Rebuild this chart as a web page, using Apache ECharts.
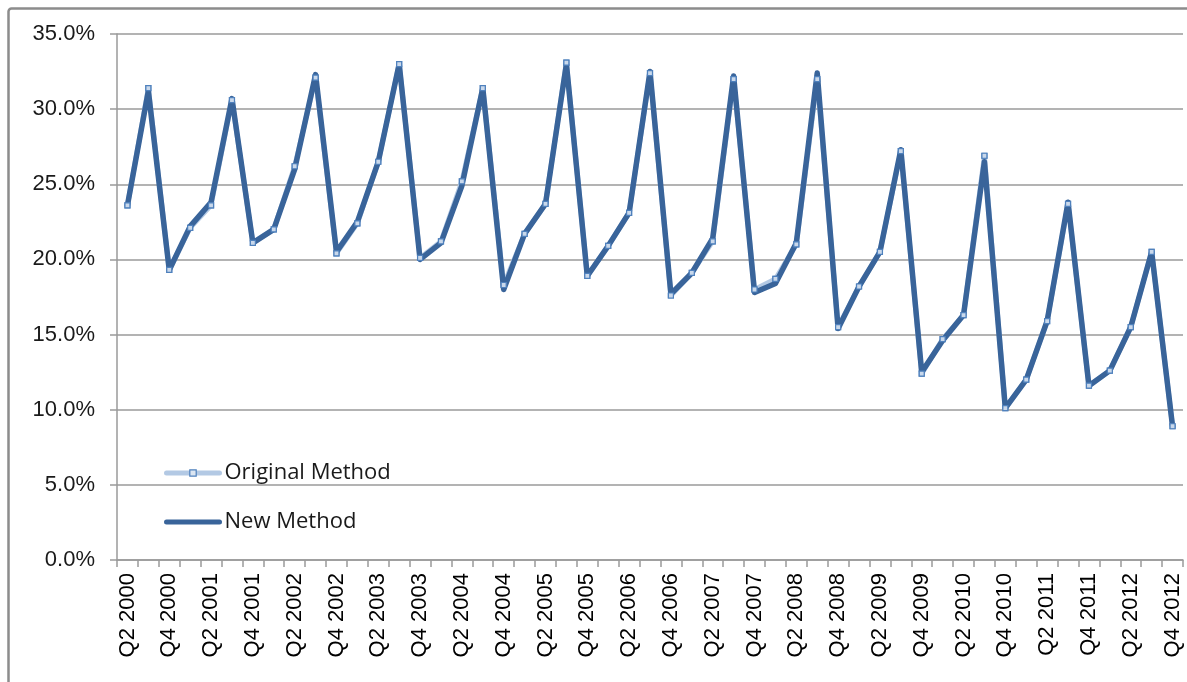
<!DOCTYPE html>
<html>
<head>
<meta charset="utf-8">
<script src="https://cdn.jsdelivr.net/npm/echarts@6/dist/echarts.min.js"></script>
<style>
html,body{margin:0;padding:0;background:#fff;}
#chart{width:1187px;height:682px;}
</style>
</head>
<body>
<div id="chart"></div>
<script>
const categories = [
  "Q2 2000","Q3 2000","Q4 2000",
  "Q1 2001","Q2 2001","Q3 2001","Q4 2001",
  "Q1 2002","Q2 2002","Q3 2002","Q4 2002",
  "Q1 2003","Q2 2003","Q3 2003","Q4 2003",
  "Q1 2004","Q2 2004","Q3 2004","Q4 2004",
  "Q1 2005","Q2 2005","Q3 2005","Q4 2005",
  "Q1 2006","Q2 2006","Q3 2006","Q4 2006",
  "Q1 2007","Q2 2007","Q3 2007","Q4 2007",
  "Q1 2008","Q2 2008","Q3 2008","Q4 2008",
  "Q1 2009","Q2 2009","Q3 2009","Q4 2009",
  "Q1 2010","Q2 2010","Q3 2010","Q4 2010",
  "Q1 2011","Q2 2011","Q3 2011","Q4 2011",
  "Q1 2012","Q2 2012","Q3 2012","Q4 2012"
];

const originalMethod = [
  23.6, 31.4, 19.3,
  22.1, 23.6, 30.6, 21.1,
  22.0, 26.2, 32.1, 20.4,
  22.4, 26.5, 33.0, 20.1,
  21.2, 25.2, 31.4, 18.3,
  21.7, 23.7, 33.1, 18.9,
  20.9, 23.1, 32.4, 17.6,
  19.1, 21.2, 32.0, 18.0,
  18.7, 21.0, 32.0, 15.5,
  18.2, 20.5, 27.2, 12.4,
  14.7, 16.3, 26.9, 10.1,
  12.0, 15.9, 23.7, 11.6,
  12.6, 15.5, 20.5, 8.9
];

const newMethod = [
  23.6, 31.2, 19.3,
  22.2, 23.8, 30.7, 21.1,
  22.0, 26.0, 32.3, 20.5,
  22.5, 26.5, 33.0, 20.0,
  21.1, 24.9, 31.4, 18.0,
  21.7, 23.7, 33.0, 18.9,
  20.9, 23.1, 32.5, 17.7,
  19.1, 21.4, 32.2, 17.8,
  18.4, 21.1, 32.4, 15.4,
  18.2, 20.5, 27.3, 12.5,
  14.6, 16.3, 26.5, 10.1,
  12.0, 15.9, 23.8, 11.6,
  12.6, 15.5, 20.5, 8.9
];

const seriesNames = ["Original Method", "New Method"];
const yTicks = { min: 0, max: 35, interval: 5 };

const chart = echarts.init(document.getElementById('chart'), null, { renderer: 'canvas' });

const axisFont = 'Liberation Sans, Arial, sans-serif';
const darkBlue = '#39649a';
const lightBlue = '#b3c9e4';

chart.setOption({
  animation: false,
  backgroundColor: '#ffffff',
  graphic: [{
    type: 'rect',
    left: 6, top: 6,
    shape: { width: 1400, height: 900, r: 3 },
    style: { fill: 'none', stroke: '#8c8c8c', lineWidth: 2.5 },
    silent: true,
    z: -1
  }],
  grid: { left: 117, right: 4, top: 34, bottom: 122, containLabel: false },
  legend: {
    data: [
      {
        name: seriesNames[0],
        lineStyle: { width: 5, color: lightBlue },
        itemStyle: { color: '#dce6f2', borderColor: '#4f81bd', borderWidth: 1.2 }
      },
      {
        name: seriesNames[1],
        lineStyle: { width: 5, color: darkBlue },
        itemStyle: { opacity: 0 }
      }
    ],
    orient: 'vertical',
    left: 159,
    top: 457,
    itemWidth: 53,
    itemHeight: 8,
    itemGap: 27,
    textStyle: { fontFamily: 'Open Sans, sans-serif', fontSize: 22, color: '#1a1a1a' }
  },
  xAxis: {
    type: 'category',
    data: categories,
    boundaryGap: true,
    axisLine: { show: true, lineStyle: { color: '#9a9a9a', width: 1.5 } },
    axisTick: { show: true, interval: 0, length: 7, lineStyle: { color: '#9a9a9a', width: 1.5 } },
    axisLabel: {
      interval: 1,
      rotate: 90,
      margin: 13,
      fontFamily: axisFont,
      fontSize: 22,
      color: '#000'
    },
    splitLine: { show: false }
  },
  yAxis: {
    type: 'value',
    min: yTicks.min,
    max: yTicks.max,
    interval: yTicks.interval,
    axisLine: { show: true, lineStyle: { color: '#9a9a9a', width: 1.5 } },
    axisTick: { show: true, length: 7, lineStyle: { color: '#9a9a9a', width: 1.5 } },
    axisLabel: {
      margin: 22,
      fontFamily: axisFont,
      fontSize: 22,
      color: '#1a1a1a',
      formatter: v => v.toFixed(1) + '%'
    },
    splitLine: { show: true, lineStyle: { color: '#9a9a9a', width: 1.5 } }
  },
  series: [
    {
      name: seriesNames[0],
      type: 'line',
      data: originalMethod,
      z: 2,
      symbol: 'rect',
      symbolSize: 5,
      showSymbol: true,
      itemStyle: { color: '#c9d8eb', borderColor: '#4f81bd', borderWidth: 1.2 },
      lineStyle: { color: lightBlue, width: 5, cap: 'round', join: 'round' }
    },
    {
      name: seriesNames[1],
      type: 'line',
      data: newMethod,
      z: 3,
      symbol: 'none',
      lineStyle: { color: darkBlue, width: 5.5, cap: 'round', join: 'round' },
      itemStyle: { color: darkBlue }
    },
    {
      name: seriesNames[0],
      type: 'line',
      data: originalMethod,
      z: 4,
      symbol: 'rect',
      symbolSize: 5,
      showSymbol: true,
      itemStyle: { color: '#c9d8eb', borderColor: '#4f81bd', borderWidth: 1.2 },
      lineStyle: { width: 0, opacity: 0 }
    }
  ]
});
</script>
</body>
</html>
